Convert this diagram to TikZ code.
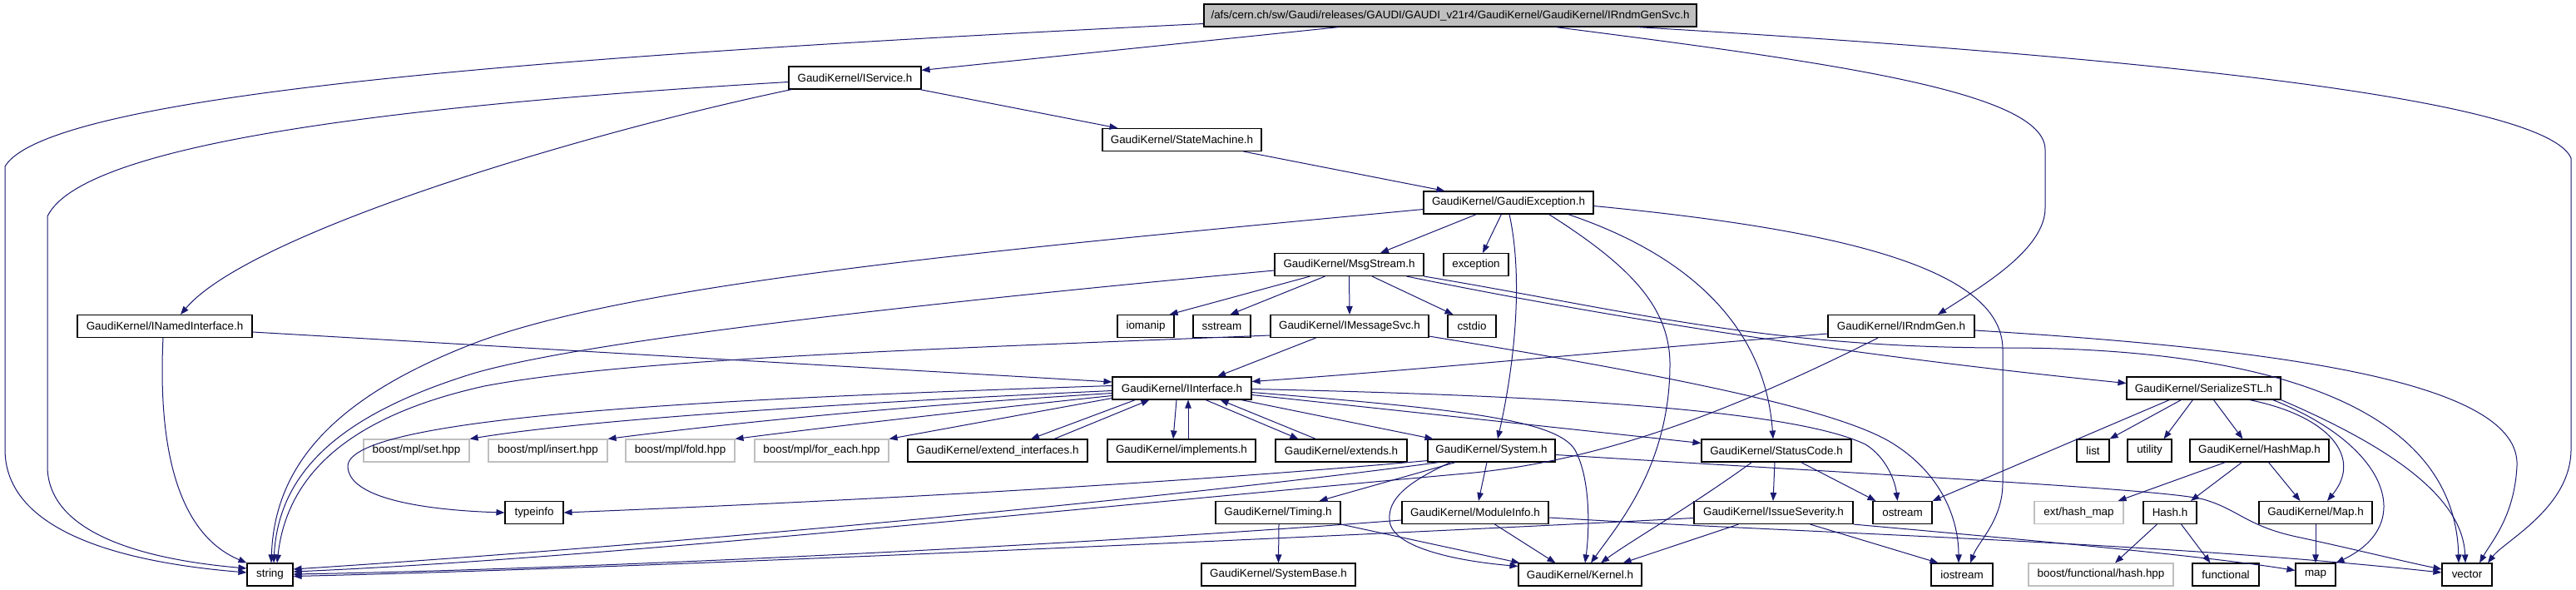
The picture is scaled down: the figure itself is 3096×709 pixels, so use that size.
\documentclass[tikz,border=0pt]{standalone}
\usepackage{fontspec}
\setmainfont{Liberation Sans}
\usetikzlibrary{arrows.meta,calc}
\definecolor{edgeblue}{RGB}{25,25,112}
\definecolor{greyb}{RGB}{191,191,191}
\begin{document}
\begin{tikzpicture}[x=1pt,y=-1pt,
  box/.style={draw=black,line width=1.1pt,minimum height=27pt,inner sep=0pt,font=\fontsize{13.4}{15}\selectfont},
  gbox/.style={box,draw=greyb},
  rootbox/.style={box,fill=greyb},
  e/.style={draw=edgeblue,line width=1pt,-{Triangle[length=10pt,width=7.5pt]}}]
\useasboundingbox[fill=white] (0,0) rectangle (3096,709);

% nodes
\node[rootbox,minimum width=592pt] (root) at (1743,18.5) {/afs/cern.ch/sw/Gaudi/releases/GAUDI/GAUDI\_v21r4/GaudiKernel/GaudiKernel/IRndmGenSvc.h};
\node[box,minimum width=159pt] (IService) at (1027.5,93.5) {GaudiKernel/IService.h};
\node[box,minimum width=191pt] (StateMachine) at (1420.5,168) {GaudiKernel/StateMachine.h};
\node[box,minimum width=204pt] (GaudiException) at (1813,243.5) {GaudiKernel/GaudiException.h};
\node[box,minimum width=179pt] (MsgStream) at (1621.5,318) {GaudiKernel/MsgStream.h};
\node[box,minimum width=78pt] (exception) at (1774,318) {exception};
\node[box,minimum width=210pt] (INamedInterface) at (198,392) {GaudiKernel/INamedInterface.h};
\node[box,minimum width=68pt] (iomanip) at (1377,392) {iomanip};
\node[box,minimum width=69pt] (sstream) at (1468.5,392) {sstream};
\node[box,minimum width=190pt] (IMessageSvc) at (1622,392) {GaudiKernel/IMessageSvc.h};
\node[box,minimum width=58pt] (cstdio) at (1769,392) {cstdio};
\node[box,minimum width=176pt] (IRndmGen) at (2285,392) {GaudiKernel/IRndmGen.h};
\node[box,minimum width=167pt] (IInterface) at (1420.5,466.5) {GaudiKernel/IInterface.h};
\node[box,minimum width=185pt] (SerializeSTL) at (2648.5,466.5) {GaudiKernel/SerializeSTL.h};
\node[gbox,minimum width=127pt] (set) at (500.5,541.5) {boost/mpl/set.hpp};
\node[gbox,minimum width=143pt] (insert) at (658.5,541.5) {boost/mpl/insert.hpp};
\node[gbox,minimum width=131pt] (fold) at (817.5,541.5) {boost/mpl/fold.hpp};
\node[gbox,minimum width=161pt] (foreach) at (987.5,541.5) {boost/mpl/for\_each.hpp};
\node[box,minimum width=216pt] (extendint) at (1199,541.5) {GaudiKernel/extend\_interfaces.h};
\node[box,minimum width=178pt] (implements) at (1420,541.5) {GaudiKernel/implements.h};
\node[box,minimum width=158pt] (extends) at (1612,541.5) {GaudiKernel/extends.h};
\node[box,minimum width=153pt] (System) at (1792.5,541.5) {GaudiKernel/System.h};
\node[box,minimum width=180pt] (StatusCode) at (2135,541.5) {GaudiKernel/StatusCode.h};
\node[box,minimum width=39pt] (list) at (2515.5,541.5) {list};
\node[box,minimum width=53pt] (utility) at (2583.5,541.5) {utility};
\node[box,minimum width=167pt] (HashMap) at (2715.5,541.5) {GaudiKernel/HashMap.h};
\node[box,minimum width=70pt] (typeinfo) at (642,616) {typeinfo};
\node[box,minimum width=150pt] (Timing) at (1536,616) {GaudiKernel/Timing.h};
\node[box,minimum width=176pt] (ModuleInfo) at (1773,616) {GaudiKernel/ModuleInfo.h};
\node[box,minimum width=191pt] (IssueSeverity) at (2131.5,616) {GaudiKernel/IssueSeverity.h};
\node[box,minimum width=71pt] (ostream) at (2286.5,616) {ostream};
\node[gbox,minimum width=107pt] (exthashmap) at (2498.5,616) {ext/hash\_map};
\node[box,minimum width=64pt] (Hash) at (2608,616) {Hash.h};
\node[box,minimum width=136pt] (Map) at (2783,616) {GaudiKernel/Map.h};
\node[box,minimum width=55pt] (string) at (324.5,690.5) {string};
\node[box,minimum width=185pt] (SystemBase) at (1536.5,690.5) {GaudiKernel/SystemBase.h};
\node[box,minimum width=148pt] (Kernel) at (1899,690.5) {GaudiKernel/Kernel.h};
\node[box,minimum width=74pt] (iostream) at (2358,690.5) {iostream};
\node[gbox,minimum width=174pt] (boostfunc) at (2525,690.5) {boost/functional/hash.hpp};
\node[box,minimum width=80pt] (functional) at (2675,690.5) {functional};
\node[box,minimum width=48pt] (map) at (2783,690.5) {map};
\node[box,minimum width=60pt] (vector) at (2965,690.5) {vector};

% root
\draw[e] ($(root.south west)+(163,0)$) -- ($(IService.north east)+(0,5)$);
\draw[e] ($(root.west)+(0,10)$) .. controls (700,65) and (60,110) .. (6,200) -- (6,540) .. controls (6,640) and (150,676) .. ($(string.west)+(0,-2.5)$);
\draw[e] ($(root.south west)+(423,0)$) .. controls (2200,75) and (2458,110) .. (2458,180) -- (2458,250) .. controls (2458,300) and (2380,345) .. ($(IRndmGen.north)+(44,0)$);
\draw[e] ($(root.south west)+(521,0)$) .. controls (2600,70) and (3060,120) .. (3090,190) -- (3090,540) .. controls (3090,610) and (3010,650) .. ($(vector.north)+(25,0)$);

% IService
\draw[e] ($(IService.west)+(0,5)$) .. controls (500,125) and (100,170) .. (57,260) -- (57,560) .. controls (57,640) and (170,672) .. ($(string.west)+(0,-7.5)$);
\draw[e] ($(IService.south west)+(4,0)$) .. controls (700,160) and (300,280) .. ($(INamedInterface.north)+(19,0)$);
\draw[e] ($(IService.south east)+(-2,0)$) -- ($(StateMachine.north west)+(19,0)$);

% INamedInterface
\draw[e] ($(INamedInterface.south)+(-2,0)$) .. controls (190,530) and (210,640) .. (string.north west);
\draw[e] ($(INamedInterface.east)+(0,7)$) -- ($(IInterface.west)+(0,-7.5)$);

% StateMachine
\draw[e] ($(StateMachine.south east)+(-22,0)$) -- ($(GaudiException.north west)+(26,0)$);

% GaudiException
\draw[e] ($(GaudiException.west)+(0,8)$) .. controls (1200,300) and (750,340) .. (561,416) .. controls (400,480) and (330,560) .. ($(string.north)+(1.5,0)$);
\draw[e] ($(GaudiException.south west)+(64,0)$) -- ($(MsgStream.north)+(37.5,0)$);
\draw[e] ($(GaudiException.south west)+(94,0)$) -- ($(exception.north)+(8,0)$);
\draw[e] ($(GaudiException.south)+(1,0)$) .. controls (1830,330) and (1822,430) .. ($(System.north)+(7.5,0)$);
\draw[e] ($(GaudiException.south east)+(-54,0)$) .. controls (1960,320) and (2008,370) .. (2007,440) .. controls (2006,560) and (1945,630) .. ($(Kernel.north)+(13,0)$);
\draw[e] ($(GaudiException.south east)+(-31,0)$) .. controls (2040,310) and (2122,400) .. ($(StatusCode.north)+(-4,0)$);
\draw[e] ($(GaudiException.east)+(0,4)$) .. controls (2200,275) and (2407,320) .. (2407,420) -- (2407,580) .. controls (2407,625) and (2378,650) .. ($(iostream.north)+(10,0)$);

% MsgStream
\draw[e] ($(MsgStream.west)+(0,7)$) .. controls (1100,365) and (700,410) .. (568,449) .. controls (420,495) and (335,560) .. ($(string.north)+(4.5,0)$);
\draw[e] ($(MsgStream.south west)+(43,0)$) -- ($(iomanip.north east)+(-6,0)$);
\draw[e] ($(MsgStream.south west)+(61,0)$) -- ($(sstream.north)+(10,0)$);
\draw[e] (MsgStream.south) -- (IMessageSvc.north);
\draw[e] ($(MsgStream.south)+(27.5,0)$) -- ($(cstdio.north west)+(7,0)$);
\draw[e] ($(MsgStream.south east)+(-21,0)$) .. controls (1900,375) and (2200,425) .. ($(SerializeSTL.west)+(0,-6)$);
\draw[e] (MsgStream.south east) .. controls (1950,372) and (2120,418) .. (2410,418) .. controls (2680,418) and (2950,470) .. ($(vector.north)+(-10,0)$);

% IMessageSvc
\draw[e] ($(IMessageSvc.west)+(0,11)$) .. controls (1100,420) and (750,432) .. (582,464) .. controls (420,500) and (345,570) .. ($(string.north)+(8.5,0)$);
\draw[e] ($(IMessageSvc.south west)+(55,0)$) -- ($(IInterface.north)+(42.5,0)$);
\draw[e] ($(IMessageSvc.south east)+(0,-2)$) .. controls (2000,450) and (2200,490) .. (2270,530) .. controls (2330,565) and (2354,620) .. ($(iostream.north)+(-4,0)$);

% IRndmGen
\draw[e] ($(IRndmGen.west)+(0,9)$) .. controls (1900,425) and (1700,445) .. ($(IInterface.east)+(0,-8)$);
\draw[e] ($(IRndmGen.south)+(-28,0)$) .. controls (2050,510) and (1900,558) .. (1750,570) .. controls (1200,620) and (700,672) .. ($(string.east)+(0,-3.5)$);
\draw[e] ($(IRndmGen.east)+(0,5)$) .. controls (2750,420) and (3030,460) .. (3025,560) .. controls (3022,620) and (2995,650) .. ($(vector.north)+(15,0)$);

% IInterface
\draw[e] ($(IInterface.west)+(0,-3)$) .. controls (900,478) and (420,498) .. (418,560) .. controls (418,605) and (540,614) .. (typeinfo.west);
\draw[e] ($(IInterface.west)+(0,3)$) .. controls (1000,485) and (700,505) .. (set.north east);
\draw[e] ($(IInterface.west)+(0,6)$) .. controls (1050,490) and (850,512) .. (insert.north east);
\draw[e] ($(IInterface.west)+(0,9)$) .. controls (1150,495) and (980,515) .. (fold.north east);
\draw[e] ($(IInterface.west)+(0,12)$) -- (foreach.north east);
\draw[e] ($(IInterface.south west)+(28,0)$) -- ($(extendint.north)+(40,0)$);
\draw[e] ($(extendint.north)+(68,0)$) -- ($(IInterface.south west)+(45,0)$);
\draw[e] ($(IInterface.south)+(-6.5,0)$) -- ($(implements.north)+(-10,0)$);
\draw[e] ($(implements.north)+(8,0)$) -- ($(IInterface.south)+(7.5,0)$);
\draw[e] ($(IInterface.south)+(28.5,0)$) -- ($(extends.north west)+(28,0)$);
\draw[e] ($(extends.north west)+(49,0)$) -- ($(IInterface.south east)+(-38,0)$);
\draw[e] ($(IInterface.south east)+(-13,0)$) -- ($(System.north west)+(7,0)$);
\draw[e] ($(IInterface.east)+(0,8)$) -- ($(StatusCode.west)+(0,-9)$);
\draw[e] ($(IInterface.east)+(0,5)$) .. controls (1760,492) and (1880,505) .. (1895,545) .. controls (1912,580) and (1910,640) .. ($(Kernel.north)+(6,0)$);
\draw[e] ($(IInterface.east)+(0,1)$) .. controls (1900,476) and (2160,495) .. (2242,534) .. controls (2268,550) and (2278,580) .. ($(ostream.north)+(-6,0)$);

% SerializeSTL
\draw[e] ($(SerializeSTL.south west)+(52,0)$) -- (ostream.north east);
\draw[e] ($(SerializeSTL.south west)+(66,0)$) -- (list.north east);
\draw[e] ($(SerializeSTL.south west)+(80,0)$) -- ($(utility.north)+(17,0)$);
\draw[e] ($(SerializeSTL.south west)+(105,0)$) -- ($(HashMap.north west)+(64,0)$);
\draw[e] ($(SerializeSTL.south east)+(-38,0)$) .. controls (2800,500) and (2840,550) .. ($(Map.north)+(14,0)$);
\draw[e] ($(SerializeSTL.south east)+(-10,0)$) .. controls (2870,535) and (2905,630) .. (map.north east);
\draw[e] (SerializeSTL.south east) .. controls (2880,540) and (2960,600) .. ($(vector.north)+(-2,0)$);

% HashMap, Map, Hash
\draw[e] ($(HashMap.south west)+(43,0)$) -- ($(exthashmap.north east)+(-7,0)$);
\draw[e] ($(HashMap.south west)+(63,0)$) -- ($(Hash.north)+(25,0)$);
\draw[e] ($(HashMap.south west)+(95,0)$) -- ($(Map.north west)+(50,0)$);
\draw[e] (Map.south) -- (map.north);
\draw[e] ($(Hash.south west)+(17,0)$) -- ($(boostfunc.north)+(17,0)$);
\draw[e] ($(Hash.south east)+(-19,0)$) -- ($(functional.north west)+(22,0)$);

% System
\draw[e] ($(System.south west)+(0,-2)$) .. controls (1400,582) and (1000,603) .. (typeinfo.east);
\draw[e] ($(System.south west)+(14,0)$) .. controls (1400,600) and (800,655) .. ($(string.east)+(0,-6.5)$);
\draw[e] ($(System.south west)+(28,0)$) .. controls (1690,580) and (1668,600) .. (1670,625) .. controls (1672,660) and (1760,675) .. ($(Kernel.north west)+(0,4)$);
\draw[e] ($(System.south west)+(34,0)$) -- ($(Timing.north east)+(-26,0)$);
\draw[e] ($(System.south)+(-5.5,0)$) -- ($(ModuleInfo.north)+(4,0)$);
\draw[e] ($(System.east)+(0,5)$) .. controls (2300,573) and (2600,588) .. (2648,600) .. controls (2690,612) and (2700,632) .. (2760,645) .. controls (2830,660) and (2890,675) .. ($(vector.west)+(0,-6.5)$);

% Timing
\draw[e] ($(Timing.south)+(1,0)$) -- (SystemBase.north);
\draw[e] (Timing.south east) -- ($(Kernel.north west)+(2,0)$);

% ModuleInfo
\draw[e] ($(ModuleInfo.west)+(0,9)$) .. controls (1300,655) and (700,684) .. ($(string.east)+(0,-0.5)$);
\draw[e] ($(ModuleInfo.south west)+(112,0)$) -- ($(Kernel.north west)+(45,0)$);
\draw[e] ($(ModuleInfo.east)+(0,6)$) .. controls (2200,642) and (2600,652) .. ($(vector.west)+(0,-2.5)$);

% StatusCode
\draw[e] ($(StatusCode.south)+(-2,0)$) -- ($(IssueSeverity.north)+(-0.5,0)$);
\draw[e] ($(StatusCode.south east)+(-61,0)$) -- ($(ostream.north west)+(4,0)$);
\draw[e] ($(StatusCode.south west)+(61,0)$) .. controls (2030,610) and (1960,650) .. ($(Kernel.north)+(25,0)$);

% IssueSeverity
\draw[e] ($(IssueSeverity.south west)+(54,0)$) -- ($(Kernel.north east)+(-23,0)$);
\draw[e] ($(IssueSeverity.south east)+(-52,0)$) -- ($(iostream.north west)+(9,0)$);
\draw[e] (IssueSeverity.south east) .. controls (2450,650) and (2650,668) .. ($(map.west)+(0,-5)$);
\draw[e] ($(IssueSeverity.west)+(0,6.5)$) .. controls (1700,640) and (800,682) .. ($(string.east)+(0,2)$);
\end{tikzpicture}
\end{document}
